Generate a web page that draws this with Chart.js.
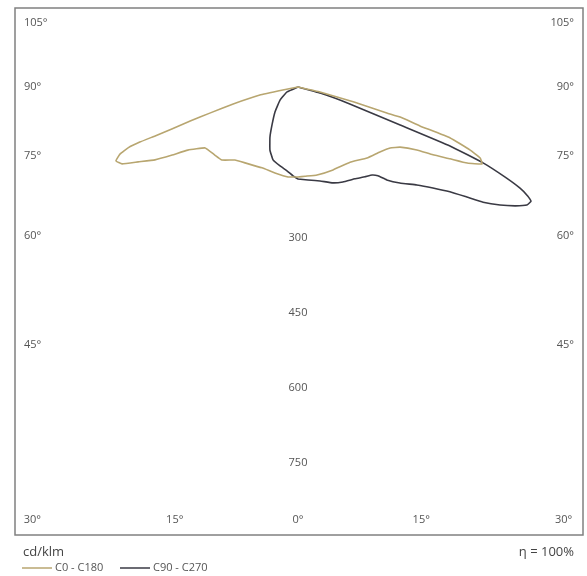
<!DOCTYPE html>
<html>
<head>
<meta charset="utf-8">
<script src="https://cdn.jsdelivr.net/npm/chart.js@4"></script>
<style>
  html, body { margin: 0; padding: 0; background: #fff; }
  #wrap { position: relative; width: 587px; height: 576px; }
</style>
</head>
<body>
<div id="wrap"><canvas id="c" width="587" height="576"></canvas></div>
<script>
// ---- Data (gamma angle from nadir in degrees, luminous intensity in cd/klm) ----
// Each half listed from nadir (0°) outward along the curve.
const c0Gamma  = [0, 4.5, 12.2, 22.9, 34.7, 44.2, 51.6, 56.5, 59.5, 62.1, 63.3, 64.7, 65.8, 67.3, 68.7, 69.9, 71.5, 72.3, 73.6, 73.7, 75.0, 77.2, 90];
const c0Cd     = [180, 179, 180, 180, 183, 198, 209, 221, 237, 269, 302, 336, 371, 399, 391, 366, 321, 256, 213, 185, 116, 45, 0];

const c180Gamma = [0, 6.3, 15.0, 24.0, 34.9, 40.8, 46.2, 50.7, 56.7, 60.2, 61.6, 63.0, 64.9, 66.4, 67.9, 69.4, 70.3, 70.8, 71.1, 71.6, 72.5, 73.5, 75.3, 78.1, 78.7, 90];
const c180Cd    = [180, 181, 178, 177, 185, 193, 211, 215, 222, 254, 286, 321, 353, 384, 393, 380, 361, 335, 302, 266, 226, 184, 134, 78, 31, 0];

const c90Gamma = [0, 6.1, 13.2, 20.0, 25.3, 31.8, 36.7, 40.1, 42.0, 43.7, 46.7, 50.5, 53.2, 55.4, 56.9, 58.1, 59.7, 61.3, 62.7, 63.9, 64.6, 65.5, 66.5, 67.7, 68.8, 69.6, 71.9, 74.7, 90];
const c90Cd    = [184, 187, 193, 204, 210, 216, 224, 230, 239, 257, 280, 308, 337, 369, 403, 436, 468, 495, 515, 519, 509, 488, 451, 400, 326, 218, 109, 46, 0];

const c270Gamma = [0, 3.2, 7.5, 12.8, 18.9, 24.0, 29.2, 34.4, 42.6, 54.2, 65.6, 90];
const c270Cd    = [184, 178, 169, 162, 154, 138, 115, 92, 68, 44, 24, 0];

// Tick labels
const sideAngleTicks   = [105, 90, 75, 60, 45];
const bottomAngleTicks = [30, 15, 0, 15, 30];
const bottomAngleSigns = [-1, -1, 0, 1, 1];
const radiusTicks      = [300, 450, 600, 750];

const seriesNames = ['C0 - C180', 'C90 - C270'];
const unitLabel = 'cd/klm';
const effLabel = '\u03B7 = 100%';

// ---- Build polar -> cartesian points (cd units) ----
const rad = d => d * Math.PI / 180;
function half(gammas, cds, side) {
  return gammas.map((g, i) => ({ x: side * cds[i] * Math.sin(rad(g)), y: -cds[i] * Math.cos(rad(g)) }));
}
function plane(gL, cL, gR, cR) {
  return half(gL, cL, -1).reverse().concat(half(gR, cR, 1));
}

const tanColor = 'rgb(184,166,112)';
const darkColor = 'rgb(58,58,68)';

const framePlugin = {
  id: 'frame',
  beforeDraw(chart) {
    const { ctx, chartArea: a } = chart;
    ctx.save();
    ctx.fillStyle = '#fff';
    ctx.fillRect(0, 0, chart.width, chart.height);
    ctx.strokeStyle = '#808080';
    ctx.lineWidth = 1.5;
    ctx.strokeRect(a.left, a.top, a.right - a.left, a.bottom - a.top);
    ctx.restore();
  },
  afterDraw(chart) {
    const { ctx, chartArea: a, scales } = chart;
    const xs = scales.x, ys = scales.y;
    const cx = xs.getPixelForValue(0), cy = ys.getPixelForValue(0);
    const pxPerCd = Math.abs(ys.getPixelForValue(-100) - cy) / 100;
    ctx.save();
    ctx.fillStyle = '#555';
    ctx.font = '11px "Open Sans", "DejaVu Sans", sans-serif';
    ctx.textBaseline = 'middle';
    // side angle labels
    const sideDx = 516 * pxPerCd;
    sideAngleTicks.forEach(t => {
      const below = 90 - t;
      let y = cy + sideDx * Math.tan(rad(below));
      y = Math.max(a.top + 15, y);
      ctx.textAlign = 'left';
      ctx.fillText(t + '\u00B0', a.left + 9, y);
      ctx.textAlign = 'right';
      ctx.fillText(t + '\u00B0', a.right - 9, y);
    });
    // bottom angle labels
    const by = a.bottom - 15;
    const depth = 920 * pxPerCd;
    bottomAngleTicks.forEach((t, i) => {
      const x = cx + bottomAngleSigns[i] * depth * Math.tan(rad(t));
      ctx.textAlign = 'center';
      ctx.fillText(t + '\u00B0', x, by);
    });
    // radius labels
    ctx.textAlign = 'center';
    radiusTicks.forEach(r => {
      ctx.fillText(String(r), cx, ys.getPixelForValue(-r) + 1);
    });
    // legend
    ctx.fillStyle = '#444';
    ctx.font = '13px "Open Sans", "DejaVu Sans", sans-serif';
    ctx.textAlign = 'left';
    ctx.fillText(unitLabel, 23, a.bottom + 17);
    ctx.textAlign = 'right';
    ctx.fillText(effLabel, 574, a.bottom + 17);
    ctx.font = '11px "Open Sans", "DejaVu Sans", sans-serif';
    ctx.textAlign = 'left';
    const ly = a.bottom + 33;
    const items = [[22, chart.data.datasets[0]], [120, chart.data.datasets[1]]];
    items.forEach(([lx, ds]) => {
      ctx.strokeStyle = ds.borderColor;
      ctx.lineWidth = 1.5;
      ctx.beginPath();
      ctx.moveTo(lx, ly);
      ctx.lineTo(lx + 30, ly);
      ctx.stroke();
      ctx.fillStyle = '#555';
      ctx.fillText(ds.label, lx + 33, ly);
    });
    ctx.restore();
  }
};

new Chart(document.getElementById('c'), {
  type: 'scatter',
  data: {
    datasets: [
      { label: seriesNames[0], data: plane(c180Gamma, c180Cd, c0Gamma, c0Cd), borderColor: tanColor, showLine: true, pointRadius: 0, borderWidth: 1.6, tension: 0.1, fill: false },
      { label: seriesNames[1], data: plane(c270Gamma, c270Cd, c90Gamma, c90Cd), borderColor: darkColor, showLine: true, pointRadius: 0, borderWidth: 1.6, tension: 0.1, fill: false }
    ]
  },
  options: {
    responsive: false,
    animation: false,
    devicePixelRatio: 1,
    layout: { padding: { left: 15, top: 8, right: 4, bottom: 41 } },
    plugins: { legend: { display: false }, tooltip: { enabled: false } },
    scales: {
      x: { type: 'linear', display: false, min: -566, max: 570 },
      y: { type: 'linear', display: false, min: -896, max: 158 }
    }
  },
  plugins: [framePlugin]
});
</script>
</body>
</html>
